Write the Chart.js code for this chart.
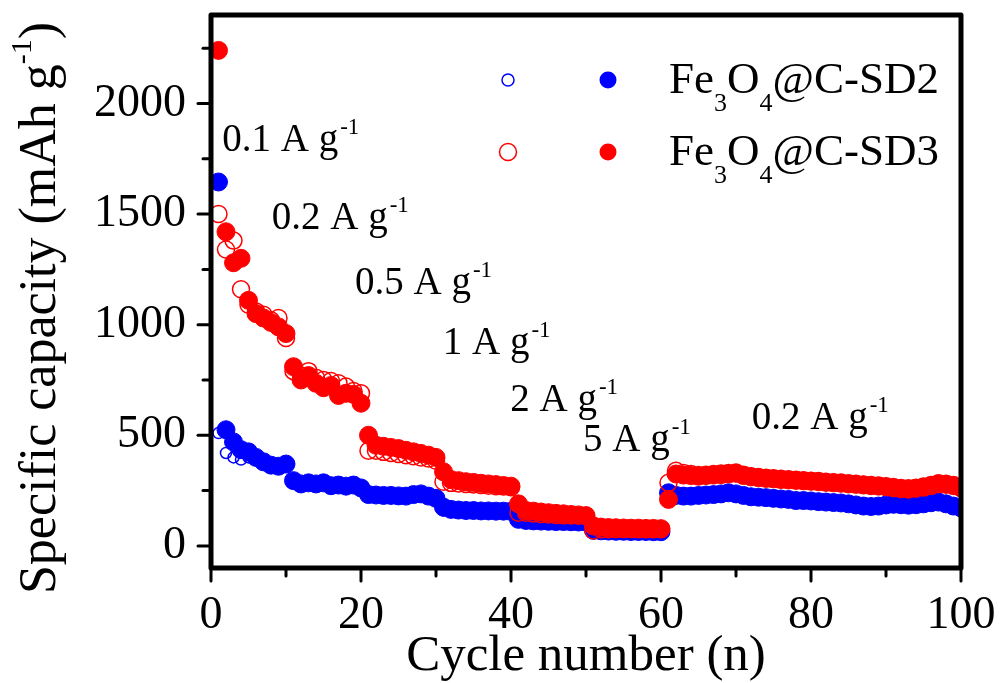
<!DOCTYPE html>
<html>
<head>
<meta charset="utf-8">
<script src="https://cdn.jsdelivr.net/npm/chart.js@4.4.0/dist/chart.umd.min.js"></script>
<style>
  html, body { margin: 0; padding: 0; background: #fff; }
</style>
</head>
<body>
<canvas id="rate-chart" width="1006" height="683"></canvas>
<script>
// cycle number 1..100 (x values)
const cycles = Array.from({length: 100}, (_, i) => i + 1);

// Fe3O4@C-SD2 (blue)
const sd2Discharge = [
  1645, 525, 470, 435, 425, 400, 380, 365, 360, 370,
  295, 280, 285, 280, 285, 272, 275, 270, 275, 262,
  232, 230, 228, 228, 226, 225, 232, 235, 225, 215,
  175, 165, 162, 160, 160, 158, 158, 157, 157, 156,
  120, 115, 113, 112, 111, 110, 110, 109, 108, 108,
  70, 68, 67, 66, 66, 65, 65, 65, 64, 64,
  240, 228, 225, 225, 228, 230, 232, 235, 240, 235,
  228, 222, 220, 218, 215, 212, 210, 205, 205, 203,
  200, 198, 196, 194, 190, 185, 180, 178, 180, 185,
  188, 186, 184, 186, 190, 195, 198, 190, 180, 172,
];
const sd2Charge = [
  510, 420, 400, 390, 400, 390, 375, 360, 355, 360,
  285, 275, 280, 275, 278, 268, 270, 265, 268, 255,
  222, 222, 220, 220, 218, 218, 225, 228, 218, 205,
  160, 155, 154, 152, 152, 150, 150, 149, 149, 148,
  110, 108, 107, 106, 105, 104, 104, 103, 103, 102,
  62, 62, 61, 61, 60, 60, 60, 60, 59, 59,
  232, 222, 220, 220, 224, 226, 228, 232, 236, 230,
  224, 218, 216, 214, 211, 208, 206, 202, 201, 200,
  197, 195, 193, 191, 187, 182, 178, 176, 177, 182,
  185, 183, 181, 183, 187, 192, 195, 187, 177, 168,
];

// Fe3O4@C-SD3 (red)
const sd3Discharge = [
  2240, 1420, 1280, 1300, 1110, 1050, 1030, 1010, 990, 960,
  810, 750, 770, 735, 715, 725, 680, 690, 685, 645,
  500, 455, 450, 445, 440, 432, 425, 418, 410, 400,
  335, 300, 295, 290, 287, 283, 280, 277, 273, 270,
  190, 160, 157, 153, 150, 147, 145, 142, 140, 137,
  90, 85, 83, 82, 81, 80, 80, 79, 79, 78,
  210, 325, 320, 318, 315, 318, 320, 322, 325, 328,
  318, 312, 308, 305, 303, 300, 298, 296, 294, 292,
  290, 287, 285, 283, 280, 278, 275, 272, 270, 267,
  262, 258, 256, 260, 265, 272, 280, 278, 272, 262,
];
const sd3Charge = [
  1500, 1340, 1380, 1160, 1090, 1060, 1045, 1020, 1030, 940,
  790, 770, 790, 760, 750, 745, 735, 720, 700, 690,
  430, 430, 425, 420, 415, 410, 405, 400, 395, 385,
  290, 285, 282, 280, 278, 275, 272, 270, 268, 265,
  150, 150, 146, 144, 142, 140, 138, 137, 136, 134,
  70, 75, 75, 76, 76, 76, 75, 75, 75, 75,
  285, 340, 330, 325, 320, 322, 325, 327, 330, 332,
  322, 315, 311, 308, 306, 303, 301, 299, 297, 295,
  293, 290, 288, 286, 283, 281, 278, 275, 273, 270,
  266, 262, 260, 263, 268, 275, 283, 281, 275, 266,
];

const xTicks = [0, 20, 40, 60, 80, 100];
const xMinorTicks = [10, 30, 50, 70, 90];
const yTicks = [0, 500, 1000, 1500, 2000];
const yMinorTicks = [250, 750, 1250, 1750, 2250];

// current density labels, anchored in data coordinates (cycle, capacity)
const rateLabels = ['0.1', '0.2', '0.5', '1', '2', '5', '0.2'];
const rateLabelAnchors = [[1.5, 1787], [8.1, 1434], [19.2, 1140], [30.9, 869], [39.9, 611], [49.6, 430], [72.1, 529]];

const seriesNames = ['SD2', 'SD3'];
const seriesColors = ['#0000ff', '#ff0000'];

const serif = '"Liberation Serif", "Times New Roman", serif';

function toPoints(values) {
  return values.map((v, i) => ({x: cycles[i], y: v}));
}

// draws a run of text pieces, each with its own size and baseline shift
function drawRich(ctx, parts, x, y) {
  let cx = x;
  for (const p of parts) {
    ctx.font = `${p.size}px ${serif}`;
    ctx.fillText(p.text, cx, y + (p.dy || 0));
    cx += ctx.measureText(p.text).width + (p.gap || 0);
  }
  return cx - x;
}

function richWidth(ctx, parts) {
  let w = 0;
  for (const p of parts) {
    ctx.font = `${p.size}px ${serif}`;
    w += ctx.measureText(p.text).width + (p.gap || 0);
  }
  return w;
}

// no extra room for edge labels, the plot box is fixed
function fixScale(scale, size) {
  if (scale.isHorizontal()) scale.height = size;
  else scale.width = size;
  scale.paddingTop = 0;
  scale.paddingBottom = 0;
  scale.paddingLeft = 0;
  scale.paddingRight = 0;
}

const decorations = {
  id: 'decorations',
  afterDatasetsDraw(chart) {
    const {ctx, chartArea: a, scales: {x, y}} = chart;
    ctx.save();
    ctx.strokeStyle = '#000';
    ctx.fillStyle = '#000';

    // frame
    ctx.lineWidth = 5;
    ctx.lineJoin = 'round';
    ctx.strokeRect(a.left, a.top, a.right - a.left, a.bottom - a.top);

    // outward ticks
    ctx.lineWidth = 3;
    ctx.lineCap = 'round';
    const tick = (x1, y1, x2, y2) => {
      ctx.beginPath();
      ctx.moveTo(x1, y1);
      ctx.lineTo(x2, y2);
      ctx.stroke();
    };
    xTicks.forEach(v => { const px = x.getPixelForValue(v); tick(px, a.bottom, px, a.bottom + 13); });
    xMinorTicks.forEach(v => { const px = x.getPixelForValue(v); tick(px, a.bottom, px, a.bottom + 8); });
    yTicks.forEach(v => { const py = y.getPixelForValue(v); tick(a.left, py, a.left - 13, py); });
    yMinorTicks.forEach(v => { const py = y.getPixelForValue(v); tick(a.left, py, a.left - 8, py); });

    ctx.textAlign = 'left';
    ctx.textBaseline = 'alphabetic';

    // x title
    ctx.font = `51px ${serif}`;
    ctx.textAlign = 'center';
    ctx.fillText('Cycle number (n)', (a.left + a.right) / 2, 670);
    ctx.textAlign = 'left';

    // y title, rotated, with superscript
    const yTitle = [
      {text: 'Specific capacity (mAh g', size: 52},
      {text: '-1', size: 30, dy: -24},
      {text: ')', size: 52},
    ];
    ctx.save();
    ctx.translate(55, 308);
    ctx.rotate(-Math.PI / 2);
    drawRich(ctx, yTitle, -richWidth(ctx, yTitle) / 2, 0);
    ctx.restore();

    // current density labels
    rateLabels.forEach((label, i) => {
      const [cx, cy] = rateLabelAnchors[i];
      drawRich(ctx, [
        {text: `${label} A g`, size: 39, gap: 2},
        {text: '-1', size: 23, dy: -17},
      ], x.getPixelForValue(cx), y.getPixelForValue(cy));
    });

    // legend: open marker, filled marker, formula
    seriesNames.forEach((name, i) => {
      const rowY = 80 + i * 72;
      ctx.strokeStyle = seriesColors[i];
      ctx.fillStyle = seriesColors[i];
      ctx.lineWidth = 1.5;
      ctx.beginPath();
      ctx.arc(508, rowY, i === 0 ? 6 : 8.5, 0, Math.PI * 2);
      ctx.stroke();
      ctx.beginPath();
      ctx.arc(608, rowY, 8.5, 0, Math.PI * 2);
      ctx.fill();
      ctx.fillStyle = '#000';
      drawRich(ctx, [
        {text: 'Fe', size: 45},
        {text: '3', size: 26, dy: 18},
        {text: 'O', size: 45},
        {text: '4', size: 26, dy: 18},
        {text: `@C-${name}`, size: 45},
      ], 669, rowY + 13);
    });

    ctx.restore();
  },
};

const marker = (color, filled, radius) => ({
  showLine: false,
  pointRadius: radius,
  pointBorderWidth: filled ? 1 : 1.5,
  pointBorderColor: color,
  pointBackgroundColor: filled ? color : 'rgba(255,255,255,0)',
});

new Chart(document.getElementById('rate-chart'), {
  type: 'scatter',
  data: {
    datasets: [
      {label: 'SD3 discharge', data: toPoints(sd3Discharge), ...marker(seriesColors[1], true, 9)},
      {label: 'SD3 charge', data: toPoints(sd3Charge), ...marker(seriesColors[1], false, 8.5)},
      {label: 'SD2 discharge', data: toPoints(sd2Discharge), ...marker(seriesColors[0], true, 9)},
      {label: 'SD2 charge', data: toPoints(sd2Charge), ...marker(seriesColors[0], false, 5.5)},
    ],
  },
  options: {
    responsive: false,
    animation: false,
    layout: {
      padding: {left: 0, top: 15, right: 45, bottom: 0},
    },
    plugins: {
      legend: {display: false},
      tooltip: {enabled: false},
    },
    scales: {
      x: {
        type: 'linear',
        min: 0,
        max: 100,
        afterBuildTicks: scale => { scale.ticks = xTicks.map(v => ({value: v})); },
        afterFit: scale => fixScale(scale, 115),
        grid: {display: false, drawTicks: false},
        border: {display: false},
        ticks: {
          color: '#000',
          padding: 20,
          maxRotation: 0,
          callback: v => String(v),
          font: {family: serif, size: 46},
        },
      },
      y: {
        type: 'linear',
        min: -100,
        max: 2400,
        afterBuildTicks: scale => { scale.ticks = yTicks.map(v => ({value: v})); },
        afterFit: scale => fixScale(scale, 211),
        grid: {display: false, drawTicks: false},
        border: {display: false},
        ticks: {
          color: '#000',
          padding: 25,
          callback: v => String(v),
          font: {family: serif, size: 46},
        },
      },
    },
  },
  plugins: [decorations],
});
</script>
</body>
</html>
